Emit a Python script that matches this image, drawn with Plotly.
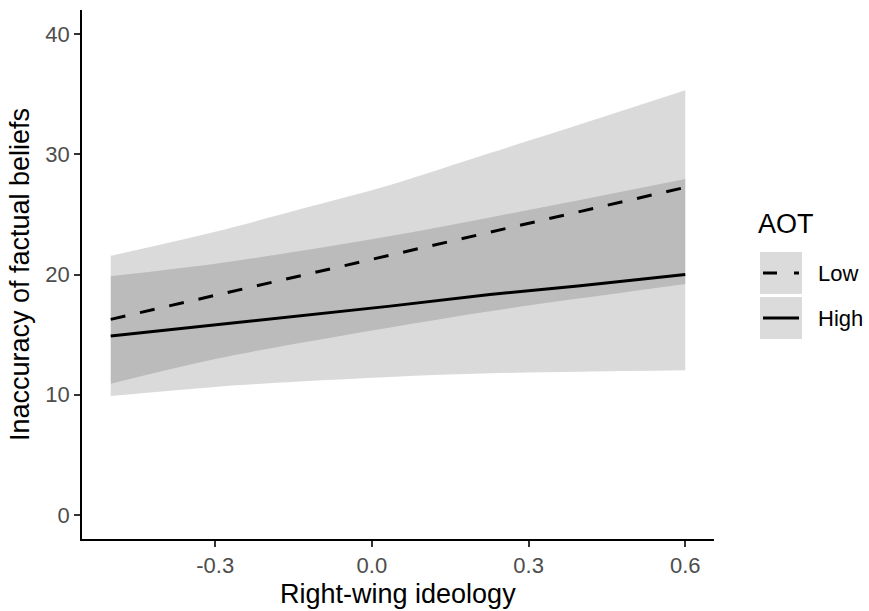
import plotly.graph_objects as go

# ---- data ----
ideology = [-0.5, -0.3, -0.138, 0.035, 0.226, 0.399, 0.6]

low_fit = [16.27, 18.27, 19.88, 21.6, 23.5, 25.24, 27.25]
low_upper = [21.55, 23.55, 25.43, 27.45, 30.1, 32.5, 35.33]
low_lower = [10.92, 12.97, 14.3, 15.6, 16.95, 18.02, 19.22]

high_fit = [14.88, 15.81, 16.57, 17.37, 18.34, 19.06, 20.0]
high_upper = [19.86, 20.9, 21.95, 23.2, 24.75, 26.2, 27.94]
high_lower = [9.9, 10.65, 11.1, 11.48, 11.78, 11.92, 12.03]

x_ticks = [-0.3, 0.0, 0.3, 0.6]
x_ticktext = ["-0.3", "0.0", "0.3", "0.6"]
y_ticks = [0, 10, 20, 30, 40]
groups = ["Low", "High"]

# ---- styling ----
FONT = "Liberation Sans, Arial, sans-serif"
BAND = "rgba(51,51,51,0.18)"
W, H = 869, 611
L, T = 82, 10
R = W - 714
B = H - 539
PW, PH = W - L - R, H - T - B


def px_x(px):
    return (px - L) / PW


def px_y(py):
    return (H - B - py) / PH


fig = go.Figure()

for lo, hi in [(high_lower, high_upper), (low_lower, low_upper)]:
    fig.add_trace(go.Scatter(x=ideology, y=lo, mode="lines", line=dict(width=0, shape="spline"),
                             showlegend=False, hoverinfo="skip"))
    fig.add_trace(go.Scatter(x=ideology, y=hi, mode="lines", line=dict(width=0, shape="spline"),
                             fill="tonexty", fillcolor=BAND, showlegend=False, hoverinfo="skip"))

fig.add_trace(go.Scatter(x=ideology, y=low_fit, mode="lines", name="Low",
                         line=dict(color="black", width=3, dash="15px,15px"), showlegend=False))
fig.add_trace(go.Scatter(x=ideology, y=high_fit, mode="lines", name="High",
                         line=dict(color="black", width=3), showlegend=False))

# ---- manual ggplot-style legend and x title ----
shapes = []
annotations = []
annotations.append(dict(text="Right-wing ideology", xref="paper", yref="paper", x=0.5, y=px_y(594),
                        xanchor="center", yanchor="middle", showarrow=False,
                        font=dict(family=FONT, size=27, color="black")))
annotations.append(dict(text="AOT", xref="paper", yref="paper", x=px_x(756), y=px_y(224),
                        xanchor="left", yanchor="middle", showarrow=False,
                        font=dict(family=FONT, size=27, color="black")))
key_tops = [252, 297]
for i, g in enumerate(groups):
    top = key_tops[i]
    shapes.append(dict(type="rect", xref="paper", yref="paper",
                       x0=px_x(760), x1=px_x(802), y0=px_y(top + 42), y1=px_y(top),
                       fillcolor="rgb(219,219,219)", line=dict(width=0), layer="above"))
    cy = top + 21
    shapes.append(dict(type="line", xref="paper", yref="paper",
                       x0=px_x(763), x1=px_x(799), y0=px_y(cy), y1=px_y(cy),
                       line=dict(color="black", width=3,
                                 dash="14px,17px" if g == "Low" else "solid"),
                       layer="above"))
    annotations.append(dict(text=g, xref="paper", yref="paper", x=px_x(816), y=px_y(cy),
                            xanchor="left", yanchor="middle", showarrow=False,
                            font=dict(family=FONT, size=22, color="black")))

fig.update_layout(
    width=W, height=H,
    margin=dict(l=L, r=R, t=T, b=B),
    paper_bgcolor="white", plot_bgcolor="white",
    font=dict(family=FONT),
    shapes=shapes, annotations=annotations,
    showlegend=False,
)
fig.update_xaxes(range=[-0.555, 0.655], tickvals=x_ticks, ticktext=x_ticktext,
                 showline=True, linecolor="black", linewidth=1.6, mirror=False,
                 ticks="outside", ticklen=6, tickwidth=1.6, tickcolor="#333333",
                 tickfont=dict(family=FONT, size=22, color="#4D4D4D"),
                 showgrid=False, zeroline=False)
fig.update_yaxes(range=[-2, 42], tickvals=y_ticks,
                 showline=True, linecolor="black", linewidth=1.6, mirror=False,
                 ticks="outside", ticklen=6, tickwidth=1.6, tickcolor="#333333",
                 tickfont=dict(family=FONT, size=22, color="#4D4D4D"),
                 showgrid=False, zeroline=False,
                 title=dict(text="Inaccuracy of factual beliefs", font=dict(family=FONT, size=27, color="black"),
                            standoff=8))

fig.write_html("out.html",
               config={"displayModeBar": False},
               post_script="document.body.style.margin='0';document.body.style.overflow='hidden';")
